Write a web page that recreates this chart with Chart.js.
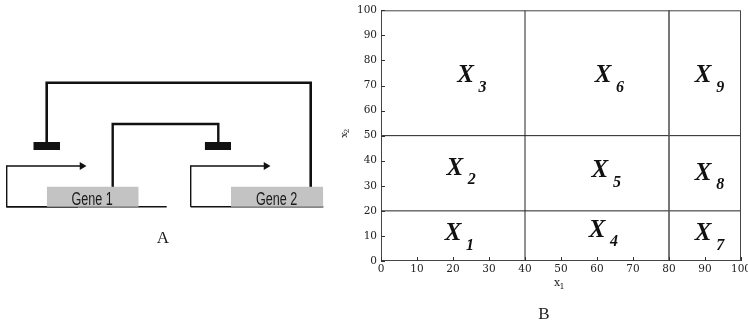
<!DOCTYPE html>
<html>
<head>
<meta charset="utf-8">
<script src="https://cdn.jsdelivr.net/npm/chart.js@4/dist/chart.umd.min.js"></script>
<style>
  html, body { margin: 0; padding: 0; background: #fff; overflow: hidden; }
  body { width: 748px; height: 328px; position: relative; }
  #diagramaBox { position: absolute; left: 0; top: 0; width: 340px; height: 328px; }
  #regioesBox { position: absolute; left: 340px; top: 0; width: 420px; height: 328px; }
</style>
</head>
<body>
<div id="diagramaBox"><canvas id="diagrama"></canvas></div>
<div id="regioesBox"><canvas id="regioes"></canvas></div>
<script>
// ---- painel B: dados ----
const ticksX = [0, 10, 20, 30, 40, 50, 60, 70, 80, 90, 100];
const ticksY = [0, 10, 20, 30, 40, 50, 60, 70, 80, 90, 100];
const cortesX = [40, 80];
const cortesY = [20, 50];
const regiaoNome = ['1', '2', '3', '4', '5', '6', '7', '8', '9'];
const regiaoX = [20, 20.5, 23.5, 60, 60.8, 61.7, 89.5, 89.5, 89.5];
const regiaoY = [11, 37, 74, 12.3, 36, 74, 11, 35, 74];

// ---- painel A: diagrama (coordenadas do desenho) ----
const linhaExterna = [[46.7, 142], [46.7, 82.7], [310.7, 82.7], [310.7, 187]];
const linhaInterna = [[112.7, 187], [112.7, 124], [218.3, 124], [218.3, 142]];
const promotor1 = [[78, 206.7], [6.7, 206.7], [6.7, 166], [80, 166]];
const promotor2 = [[190.7, 206.7], [190.7, 166], [264, 166]];
const baseDireita = [[190.7, 206.7], [323.3, 206.7]];
const baseEsquerda = [[6.7, 206.7], [166.7, 206.7]];
const genes = [
  { nome: 'Gene 1', x0: 46.7, x1: 138.7, y0: 186.7, y1: 206.7 },
  { nome: 'Gene 2', x0: 231, x1: 323.3, y0: 186.7, y1: 206.7 }
];
const repressores = [
  { x0: 33.3, x1: 60, y0: 142, y1: 150 },
  { x0: 204.7, x1: 231, y0: 142, y1: 150 }
];
const setas = [[82, 166], [266, 166]];

function pontos(lista) {
  return lista.map(p => ({ x: p[0], y: p[1] }));
}

function linha(lista, largura) {
  return {
    data: pontos(lista),
    borderColor: '#111',
    borderWidth: largura,
    pointRadius: 0,
    fill: false,
    showLine: true,
    borderJoinStyle: 'miter'
  };
}

function caixa(r, cor) {
  return {
    data: [{ x: r.x0, y: r.y0 }, { x: r.x1, y: r.y0 }],
    borderWidth: 0,
    pointRadius: 0,
    showLine: true,
    backgroundColor: cor,
    fill: { value: r.y1 }
  };
}

const datasetsA = [];
genes.forEach(g => datasetsA.push(caixa(g, '#c3c3c3')));
repressores.forEach(r => datasetsA.push(caixa(r, '#111')));
datasetsA.push(linha(linhaExterna, 2.6));
datasetsA.push(linha(linhaInterna, 2.4));
datasetsA.push(linha(promotor1, 1.4));
datasetsA.push(linha(promotor2, 1.4));
datasetsA.push(linha(baseEsquerda, 1.6));
datasetsA.push(linha(baseDireita, 1.6));
datasetsA.push({
  data: pontos(setas),
  showLine: false,
  pointStyle: 'triangle',
  rotation: 90,
  pointRadius: 4.5,
  backgroundColor: '#111',
  borderColor: '#111',
  borderWidth: 0
});

const textosA = {
  id: 'textosA',
  afterDatasetsDraw(chart) {
    const ctx = chart.ctx;
    const sx = chart.scales.x, sy = chart.scales.y;
    ctx.save();
    ctx.fillStyle = '#1a1a1a';
    ctx.textAlign = 'center';
    ctx.textBaseline = 'alphabetic';
    ctx.font = '18px "Liberation Sans", Arial, sans-serif';
    genes.forEach(g => {
      ctx.save();
      ctx.translate(sx.getPixelForValue((g.x0 + g.x1) / 2) - 0.5, sy.getPixelForValue(205));
      ctx.scale(0.7, 1);
      ctx.fillText(g.nome, 0, 0);
      ctx.restore();
    });
    ctx.textBaseline = 'middle';
    ctx.font = '17px "Liberation Serif", "Times New Roman", serif';
    ctx.fillText('A', sx.getPixelForValue(163), sy.getPixelForValue(239));
    ctx.restore();
  }
};

new Chart(document.getElementById('diagrama'), {
  type: 'scatter',
  data: { datasets: datasetsA },
  options: {
    responsive: true,
    maintainAspectRatio: false,
    animation: false,
    layout: { padding: 0, autoPadding: false },
    plugins: { legend: { display: false }, tooltip: { enabled: false } },
    scales: {
      x: { type: 'linear', min: 0, max: 340, display: false },
      y: { type: 'linear', min: 0, max: 328, reverse: true, display: false }
    }
  },
  plugins: [textosA]
});

// ---- painel B ----
const datasetsB = [];
cortesX.forEach((v, i) => datasetsB.push({
  data: [{ x: v, y: 0 }, { x: v, y: 100 }],
  showLine: true, pointRadius: 0,
  borderColor: i === 1 ? '#555' : '#222',
  borderWidth: i === 1 ? 1.6 : 1
}));
cortesY.forEach(v => datasetsB.push({
  data: [{ x: 0, y: v }, { x: 100, y: v }],
  showLine: true, pointRadius: 0,
  borderColor: '#222', borderWidth: 1
}));

const serifa = '"DejaVu Serif", "Liberation Serif", serif';

const molduraB = {
  id: 'molduraB',
  afterDatasetsDraw(chart) {
    const ctx = chart.ctx;
    const a = chart.chartArea;
    const sx = chart.scales.x, sy = chart.scales.y;
    ctx.save();
    // caixa
    ctx.strokeStyle = '#444';
    ctx.lineWidth = 1;
    ctx.strokeRect(a.left + 0.5, a.top + 0.5, a.right - a.left - 1, a.bottom - a.top - 1);
    ctx.strokeStyle = '#333';
    ctx.beginPath();
    ticksX.forEach(v => {
      const px = Math.round(sx.getPixelForValue(v)) + 0.5;
      ctx.moveTo(px, a.bottom); ctx.lineTo(px, a.bottom - 4);
    });
    ticksY.forEach(v => {
      const py = Math.round(sy.getPixelForValue(v)) + 0.5;
      ctx.moveTo(a.left, py); ctx.lineTo(a.left + 4, py);
    });
    ctx.stroke();

    // rótulos das regiões
    ctx.fillStyle = '#111';
    ctx.textAlign = 'center';
    ctx.textBaseline = 'middle';
    regiaoNome.forEach((n, i) => {
      const px = sx.getPixelForValue(regiaoX[i]);
      const py = sy.getPixelForValue(regiaoY[i]);
      ctx.font = 'italic bold 25px "Liberation Serif", "Times New Roman", serif';
      ctx.fillText('X', px, py);
      ctx.font = 'italic bold 16px "Liberation Serif", "Times New Roman", serif';
      ctx.fillText(n, px + 17, py + 12);
    });

    // títulos dos eixos
    ctx.fillStyle = '#222';
    ctx.font = '11px ' + serifa;
    const cx = (a.left + a.right) / 2 - 4;
    ctx.fillText('x', cx, 283);
    ctx.font = '8px ' + serifa;
    ctx.fillText('1', cx + 5, 287);

    ctx.save();
    ctx.translate(4, 135);
    ctx.rotate(-Math.PI / 2);
    ctx.font = '10px ' + serifa;
    ctx.fillText('x', 0, 0);
    ctx.font = '7px ' + serifa;
    ctx.fillText('2', 4, 3);
    ctx.restore();

    ctx.fillStyle = '#222';
    ctx.font = '17px "Liberation Serif", "Times New Roman", serif';
    ctx.fillText('B', 204, 315);
    ctx.restore();
  }
};

const fonteTick = { family: serifa, size: 10.5 };

new Chart(document.getElementById('regioes'), {
  type: 'scatter',
  data: { datasets: datasetsB },
  options: {
    responsive: true,
    maintainAspectRatio: false,
    animation: false,
    layout: { padding: { left: 0, right: 19, top: 9, bottom: 0 }, autoPadding: false },
    plugins: { legend: { display: false }, tooltip: { enabled: false } },
    scales: {
      x: {
        type: 'linear', min: 0, max: 100,
        afterBuildTicks: s => { s.ticks = ticksX.map(v => ({ value: v })); },
        afterFit: s => { s.height = 67; },
        grid: { display: false, drawTicks: false },
        border: { display: false },
        ticks: { color: '#222', font: fonteTick, padding: 2, maxRotation: 0, autoSkip: false }
      },
      y: {
        type: 'linear', min: 0, max: 100,
        afterBuildTicks: s => { s.ticks = ticksY.map(v => ({ value: v })); },
        afterFit: s => { s.width = 41; },
        grid: { display: false, drawTicks: false },
        border: { display: false },
        ticks: { color: '#222', font: fonteTick, padding: 4, autoSkip: false }
      }
    }
  },
  plugins: [molduraB]
});
</script>
</body>
</html>
